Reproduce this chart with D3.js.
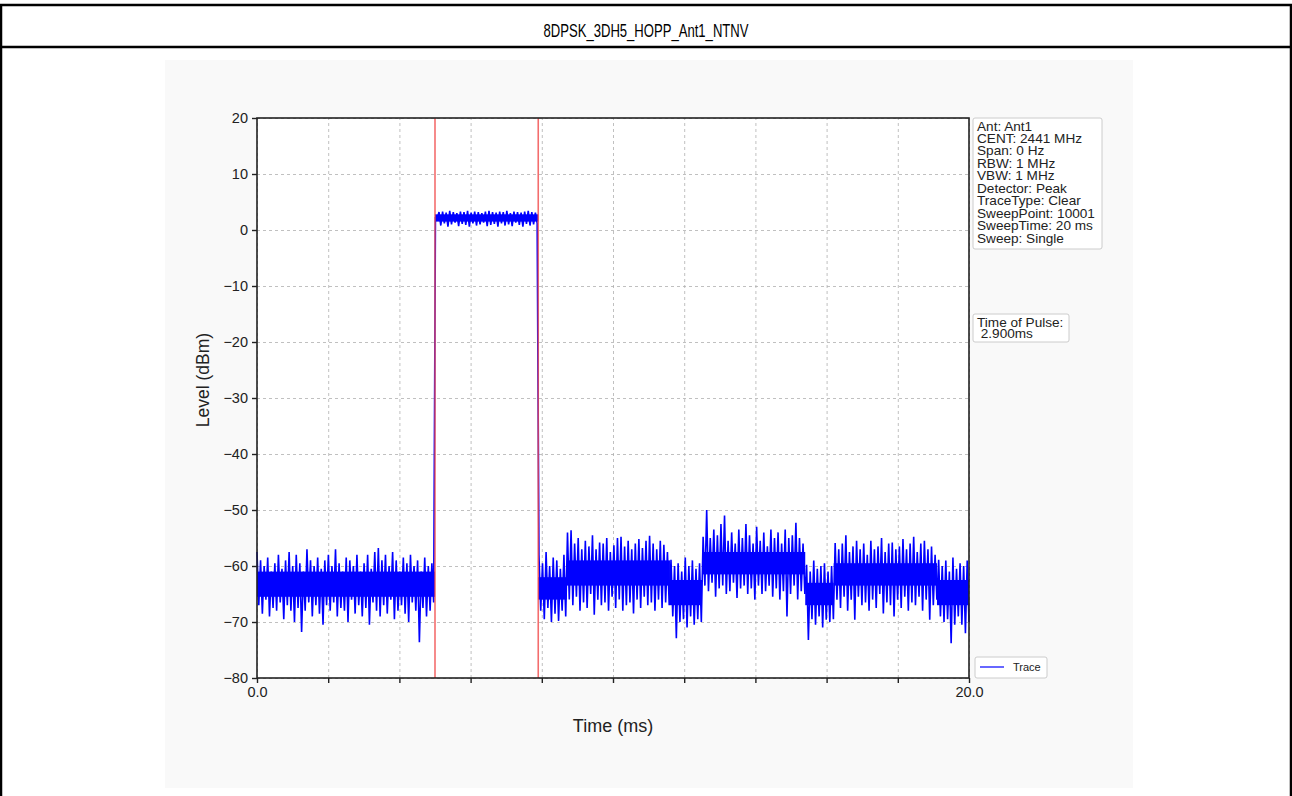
<!DOCTYPE html>
<html>
<head>
<meta charset="utf-8">
<script src="https://cdn.jsdelivr.net/npm/d3@7"></script>
<style>
  body { margin: 0; background: #fff; }
  svg text { font-family: "Liberation Sans", Arial, sans-serif; fill: #222; }
</style>
</head>
<body>
<div class="chart"></div>
<script>
// trace envelope per 0.1 ms bin (upper / lower excursion, dBm)
const noiseA_hi = [-57.5,-59,-60,-58.5,-61,-59.5,-58,-60.5,-59,-57.5,
                   -60,-58,-59.5,-61,-57,-59,-60,-58.5,-60.5,-59,
                   -58,-60,-57,-59.5,-61,-58.5,-59,-60,-58,-61,
                   -59.5,-58,-60.5,-57.5,-56.8,-59,-58,-60,-57.5,-59,
                   -61,-58.5,-59.5,-58,-60,-59,-61,-58.5,-60,-59.5];
const noiseA_lo = [-67,-68.5,-66,-69,-67.5,-68,-66.5,-69.5,-67,-68,
                   -70,-67.5,-71.8,-68,-66.5,-69,-67,-68.5,-70.5,-67,
                   -68,-66.5,-69,-67.5,-68,-70,-66,-68.5,-67,-69,
                   -67.5,-70.5,-66.5,-68,-69,-67,-68.5,-66,-69.5,-68,
                   -67,-68.5,-70,-66.5,-68,-73.6,-67.5,-69,-68,-66.5];
const pulse_hi = [2.3,3.2,3.3,3.1,3.4,3.2,3.0,3.3,3.2,3.4,3.1,3.3,3.2,3.0,3.3,
                  3.4,3.2,3.1,3.3,3.2,3.4,3.0,3.3,3.2,3.1,3.3,3.4,3.2,3.1];
const pulse_lo = [2.0,0.8,1.2,0.6,1.0,1.3,0.7,1.1,0.9,0.6,1.2,0.8,1.0,1.3,0.7,
                  0.9,1.1,0.6,1.2,0.8,1.0,0.7,1.3,0.9,0.6,1.1,0.8,1.0,1.2];
const noiseB_hi = [-58,-59.5,-57.5,-60,-58.5,-59,-60.5,-58];
const noiseB_lo = [-68,-69.5,-67.5,-70,-68.5,-69.8,-68,-69];
const noiseC_hi = [-54,-53.6,-56,-55,-57,-55.5,-56.5,-54.5,-57,-55.8,
                   -56,-55,-57.5,-56.3,-55,-54.8,-56.5,-55.5,-57,-56,
                   -55.2,-56.8,-55.5,-54.6,-56,-57,-55.5,-56.2,-57.5];
const noiseC_lo = [-66,-67,-65.5,-68,-66.5,-67.5,-65,-68.7,-66,-67,
                   -66.5,-68,-65.5,-67.5,-66,-68,-67,-66.5,-68.5,-66,
                   -67.5,-65.5,-67,-66.5,-68,-66,-67.5,-66.5,-67];
const noiseD_hi = [-58.9,-60,-59.5,-61,-58.5,-60,-59,-60.5,-59.5];
const noiseD_lo = [-69,-72.9,-70,-69.5,-71,-69,-70.5,-69.5,-70];
const noiseE_hi = [-54.8,-50,-55,-53.5,-54.5,-52.5,-51,-55.5,-54,-56,
                   -53.5,-55,-52.5,-54.5,-56,-53,-55.5,-54,-56.5,-53.5,
                   -55,-54,-56,-53.5,-55,-54.5,-52.3,-55,-56];
const noiseE_lo = [-63.5,-64.5,-63,-65.5,-64,-63.5,-65,-64.5,-63,-65.7,
                   -64,-63.5,-65,-64,-66,-63.5,-65,-64.5,-63.5,-65.5,
                   -64,-66,-64.5,-69,-65,-63.5,-66,-64.5,-65];
const noiseF_hi = [-59.8,-61,-59,-60.5,-60,-59.5,-61,-60];
const noiseF_lo = [-73.2,-69.5,-70.5,-69,-71,-69.6,-70,-69.5];
const noiseG_hi = [-55.9,-57,-56,-54.5,-57.5,-56.5,-55.5,-57,-56,-58,
                   -55.5,-57,-56.5,-55,-57.5,-56,-55.8,-57,-56.5,-55.2,
                   -57,-56,-54.8,-57.5,-56,-55.5,-57,-56.5,-58];
const noiseG_lo = [-66,-67.5,-65.5,-68,-66,-69.6,-65.5,-67,-66.5,-68,
                   -66,-67.5,-65,-68.5,-66.5,-67,-69,-66,-67.5,-65.5,
                   -68,-66.5,-67,-65.5,-68,-66,-69.6,-67,-66];
const noiseH_hi = [-58.9,-60,-59,-61,-58.5,-60.5,-59.5,-60,-59];
const noiseH_lo = [-69,-70,-69.5,-73.8,-70.5,-69,-70.5,-72,-70];

// solid core of the trace band per segment (ms, dBm)
const segStart   = [0,     5.0, 7.9, 8.7,   11.6,  12.5,  15.4, 16.2,  19.1];
const segEnd     = [5.0,   7.9, 8.7, 11.6,  12.5,  15.4,  16.2, 19.1,  20];
const coreTop    = [-61,   2.8, -62, -59,   -62.5, -57.5, -63,  -59.5, -62.5];
const coreBottom = [-65.5, 1.5, -66, -63.5, -67,   -61.5, -67,  -63.5, -67];

const markerTimes = [5.0, 7.9];            // ms, red pulse markers
const yTicks = [-80,-70,-60,-50,-40,-30,-20,-10,0,10,20];
const xTicks = [0,2,4,6,8,10,12,14,16,18,20];
const xTickLabels = {0: "0.0", 20: "20.0"};
const infoLines = ["Ant: Ant1","CENT: 2441 MHz","Span: 0 Hz","RBW: 1 MHz","VBW: 1 MHz",
                   "Detector: Peak","TraceType: Clear","SweepPoint: 10001","SweepTime: 20 ms","Sweep: Single"];
const pulseLines = ["Time of Pulse:"," 2.900ms"];

const W = 1292, H = 796;
const svg = d3.select(".chart").append("svg")
    .attr("width", W)
    .attr("height", H);

// page frame + title
svg.append("rect")
    .attr("x", 1).attr("y", 5)
    .attr("width", W - 2).attr("height", H + 10)
    .attr("fill", "none").attr("stroke", "#000").attr("stroke-width", 2.5);
svg.append("line")
    .attr("x1", 1).attr("x2", W - 1).attr("y1", 47).attr("y2", 47)
    .attr("stroke", "#000").attr("stroke-width", 2.5);
svg.append("text")
    .attr("x", 646).attr("y", 37)
    .attr("text-anchor", "middle")
    .attr("font-size", 19)
    .attr("textLength", 205).attr("lengthAdjust", "spacingAndGlyphs")
    .style("fill", "#000")
    .text("8DPSK_3DH5_HOPP_Ant1_NTNV");

// figure background
svg.append("rect")
    .attr("x", 165).attr("y", 60).attr("width", 968).attr("height", 728)
    .attr("fill", "#f9f9f9");

const margin = {top: 118, left: 257};
const width = 712, height = 560;
const g = svg.append("g").attr("transform", "translate(" + margin.left + "," + margin.top + ")");

g.append("rect").attr("width", width).attr("height", height).attr("fill", "#fff");

const x = d3.scaleLinear().domain([0, 20]).range([0, width]);
const y = d3.scaleLinear().domain([-80, 20]).range([height, 0]);

// grid
g.append("g")
    .attr("transform", "translate(0," + height + ")")
    .call(d3.axisBottom(x).tickValues(xTicks).tickSize(-height).tickFormat(""))
    .call(s => s.select(".domain").remove())
    .selectAll("line")
    .attr("stroke", "#b0b0b0").attr("stroke-dasharray", "3,3").attr("stroke-width", 0.8);
g.append("g")
    .call(d3.axisLeft(y).tickValues(yTicks).tickSize(-width).tickFormat(""))
    .call(s => s.select(".domain").remove())
    .selectAll("line")
    .attr("stroke", "#b0b0b0").attr("stroke-dasharray", "3,3").attr("stroke-width", 0.8);

// dense core of the band
g.selectAll(".core")
    .data(segStart)
    .enter().append("rect")
    .attr("class", "core")
    .attr("x", (d, i) => x(d))
    .attr("width", (d, i) => x(segEnd[i]) - x(d))
    .attr("y", (d, i) => y(coreTop[i]))
    .attr("height", (d, i) => y(coreBottom[i]) - y(coreTop[i]))
    .attr("fill", "#0000ff");

// build trace: each bin gives its upper then lower excursion
const hi = [].concat(noiseA_hi, pulse_hi, noiseB_hi, noiseC_hi, noiseD_hi, noiseE_hi, noiseF_hi, noiseG_hi, noiseH_hi);
const lo = [].concat(noiseA_lo, pulse_lo, noiseB_lo, noiseC_lo, noiseD_lo, noiseE_lo, noiseF_lo, noiseG_lo, noiseH_lo);
const trace = [];
hi.forEach((v, i) => { trace.push(v); trace.push(lo[i]); });
const step = 20 / (trace.length - 1);

const line = d3.line()
    .x((d, i) => x(i * step))
    .y(d => y(d));

g.append("path")
    .datum(trace)
    .attr("fill", "none")
    .attr("stroke", "#0000ff")
    .attr("stroke-width", 1.6)
    .attr("stroke-linejoin", "bevel")
    .attr("d", line);

// pulse markers
g.selectAll(".marker")
    .data(markerTimes)
    .enter().append("line")
    .attr("class", "marker")
    .attr("x1", d => x(d)).attr("x2", d => x(d))
    .attr("y1", 0).attr("y2", height)
    .attr("stroke", "#f04848").attr("stroke-opacity", 0.8).attr("stroke-width", 1.6);

// spines
g.append("rect").attr("width", width).attr("height", height)
    .attr("fill", "none").attr("stroke", "#222").attr("stroke-width", 1.6);

// axes
const xAxis = g.append("g")
    .attr("transform", "translate(0," + height + ")")
    .call(d3.axisBottom(x).tickValues(xTicks).tickSize(5).tickPadding(4)
        .tickFormat(d => xTickLabels[d] || ""));
xAxis.select(".domain").remove();
xAxis.selectAll("line").attr("stroke", "#222").attr("stroke-width", 1.4);
xAxis.selectAll("text").attr("font-size", 14.5).style("fill", "#222");

const yAxis = g.append("g")
    .call(d3.axisLeft(y).tickValues(yTicks).tickSize(5).tickPadding(4)
        .tickFormat(d => d < 0 ? "\u2212" + Math.abs(d) : d));
yAxis.select(".domain").remove();
yAxis.selectAll("line").attr("stroke", "#222").attr("stroke-width", 1.4);
yAxis.selectAll("text").attr("font-size", 14.5).style("fill", "#222");

// axis labels
svg.append("text")
    .attr("x", 613).attr("y", 732)
    .attr("text-anchor", "middle").attr("font-size", 18)
    .text("Time (ms)");
svg.append("text")
    .attr("transform", "translate(209,380) rotate(-90)")
    .attr("text-anchor", "middle").attr("font-size", 17.5)
    .text("Level (dBm)");

// info boxes
function textBox(x0, y0, w, h, lines, lh) {
    svg.append("rect")
        .attr("x", x0).attr("y", y0).attr("width", w).attr("height", h)
        .attr("rx", 2).attr("fill", "#fff").attr("stroke", "#ccc").attr("stroke-width", 1);
    svg.append("g").selectAll("text")
        .data(lines)
        .enter().append("text")
        .attr("x", x0 + 4)
        .attr("y", (d, i) => y0 + 12.5 + i * lh)
        .attr("font-size", 13.6)
        .style("white-space", "pre")
        .text(d => d);
}
textBox(973, 118, 129, 131, infoLines, 12.45);
textBox(973, 314, 96, 28, pulseLines, 11.5);

// legend
svg.append("rect")
    .attr("x", 975).attr("y", 657).attr("width", 72).attr("height", 21)
    .attr("rx", 2).attr("fill", "#fff").attr("stroke", "#ccc");
svg.append("line")
    .attr("x1", 980).attr("x2", 1004).attr("y1", 667).attr("y2", 667)
    .attr("stroke", "#0000ff").attr("stroke-width", 1.2);
svg.append("text")
    .attr("x", 1013).attr("y", 671).attr("font-size", 11)
    .text("Trace");
</script>
</body>
</html>
